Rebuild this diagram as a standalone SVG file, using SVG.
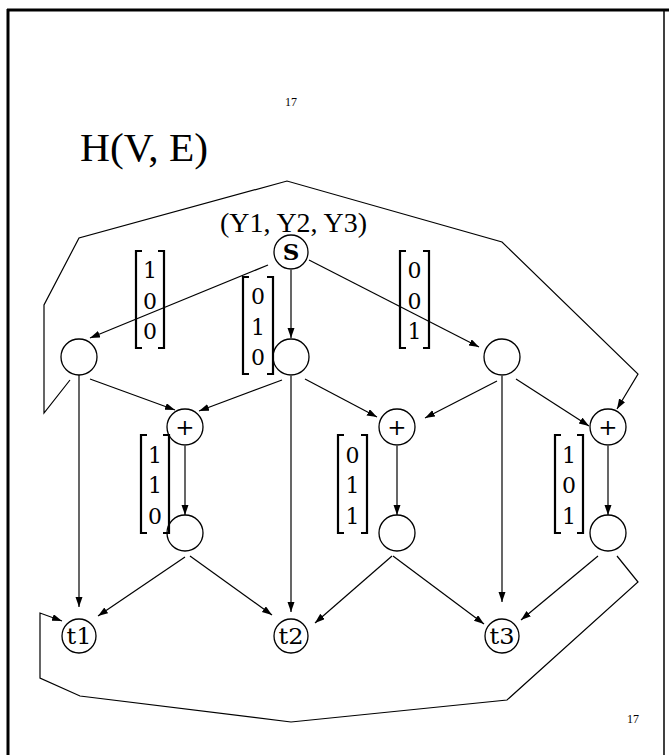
<svg xmlns="http://www.w3.org/2000/svg" width="669" height="755" viewBox="0 0 669 755">
<style>
.n{fill:#fff;stroke:#000;stroke-width:1.3}
.e{fill:none;stroke:#000;stroke-width:1.2;marker-end:url(#a)}
.t{font-family:"Liberation Serif",serif;fill:#000}
.lbl{font-family:"DejaVu Serif","Liberation Serif",serif;font-size:23px;text-anchor:middle;fill:#000}
.dg{font-family:"DejaVu Serif","Liberation Serif",serif;font-size:22px;text-anchor:middle;fill:#000}
.br{fill:none;stroke:#000;stroke-width:2.2}
</style>
<defs>
<marker id="a" markerUnits="userSpaceOnUse" markerWidth="11" markerHeight="8" refX="10" refY="3.5" orient="auto">
<path d="M0,0 L10,3.5 L0,7 z" fill="#000"/>
</marker>
</defs>
<rect width="669" height="755" fill="#fff"/>
<g id="frame">
<line x1="7" y1="10" x2="669" y2="10" stroke="#000" stroke-width="3"/>
<line x1="8" y1="9" x2="8" y2="755" stroke="#000" stroke-width="3"/>
<line x1="664" y1="10" x2="664" y2="755" stroke="#000" stroke-width="1.5"/>
</g>
<text class="t" x="291" y="106" font-size="12" text-anchor="middle">17</text>
<text class="t" x="633" y="723" font-size="12" text-anchor="middle">17</text>
<text class="t" x="80" y="161" font-size="40" textLength="128" lengthAdjust="spacingAndGlyphs">H(V, E)</text>
<text class="t" x="220" y="232" font-size="27" textLength="147" lengthAdjust="spacingAndGlyphs">(Y1, Y2, Y3)</text>

<g id="connectors">
<path class="e" d="M268,265 L90,338"/>
<path class="e" d="M291,270 L291,338"/>
<path class="e" d="M309,260 L479,347"/>
<path class="e" d="M90,379 L175,410"/>
<path class="e" d="M282,380 L199,411"/>
<path class="e" d="M305,379 L377,417"/>
<path class="e" d="M497,381 L425,418"/>
<path class="e" d="M516,379 L589,426"/>
<path class="e" d="M70,380 L44,413 L44,305 L79,238 L287,181 L502,242 L638,374 L617,409"/>
<path class="e" d="M79,375 L79,607"/>
<path class="e" d="M291,376 L291,612"/>
<path class="e" d="M502,376 L502,602"/>
<path class="e" d="M185,446 L185,515"/>
<path class="e" d="M397,446 L397,515"/>
<path class="e" d="M608,446 L608,515"/>
<path class="e" d="M185,557 L98,616"/>
<path class="e" d="M190,556 L272,615"/>
<path class="e" d="M392,556 L315,623"/>
<path class="e" d="M393,556 L484,624"/>
<path class="e" d="M598,556 L521,620"/>
<path class="e" d="M617,556 L638,582 L507,700 L291,722 L80,696 L40,678 L40,613 L62,621"/>
</g>

<g id="S"><circle class="n" cx="291" cy="252" r="17"/><text class="lbl" x="291" y="259.5" font-weight="bold" font-size="21">S</text></g>
<g id="L1"><circle class="n" cx="79" cy="357" r="18"/></g>
<g id="M1"><circle class="n" cx="291" cy="357" r="18"/></g>
<g id="R1"><circle class="n" cx="502" cy="357" r="18"/></g>
<g id="P1"><circle class="n" cx="185" cy="427" r="18"/><text class="lbl" x="185" y="435" font-size="22">+</text></g>
<g id="P2"><circle class="n" cx="397" cy="427" r="18"/><text class="lbl" x="397" y="435" font-size="22">+</text></g>
<g id="P3"><circle class="n" cx="608" cy="427" r="18"/><text class="lbl" x="608" y="435" font-size="22">+</text></g>
<g id="Q1"><circle class="n" cx="185" cy="533" r="18"/></g>
<g id="Q2"><circle class="n" cx="397" cy="533" r="18"/></g>
<g id="Q3"><circle class="n" cx="608" cy="533" r="18"/></g>
<g id="t1"><circle class="n" cx="79" cy="636" r="17"/><text class="lbl" x="79" y="644" textLength="25" lengthAdjust="spacingAndGlyphs">t1</text></g>
<g id="t2"><circle class="n" cx="291" cy="636" r="17"/><text class="lbl" x="291" y="644" textLength="25" lengthAdjust="spacingAndGlyphs">t2</text></g>
<g id="t3"><circle class="n" cx="502" cy="636" r="17"/><text class="lbl" x="502" y="644" textLength="25" lengthAdjust="spacingAndGlyphs">t3</text></g>

<g id="m100" transform="translate(136,251)">
<path class="br" d="M6,0 L0,0 L0,97 L6,97 M22,0 L28,0 L28,97 L22,97"/>
<text class="dg" x="14" y="27">1</text><text class="dg" x="14" y="58">0</text><text class="dg" x="14" y="88">0</text>
</g>
<g id="m010" transform="translate(243,277)">
<path class="br" d="M6,0 L0,0 L0,97 L6,97 M24,0 L30,0 L30,97 L24,97"/>
<text class="dg" x="15" y="27">0</text><text class="dg" x="15" y="58">1</text><text class="dg" x="15" y="88">0</text>
</g>
<g id="m001" transform="translate(400,251)">
<path class="br" d="M6,0 L0,0 L0,97 L6,97 M23,0 L29,0 L29,97 L23,97"/>
<text class="dg" x="14.5" y="27">0</text><text class="dg" x="14.5" y="58">0</text><text class="dg" x="14.5" y="88">1</text>
</g>
<g id="m110" transform="translate(141,435)">
<path class="br" d="M6,0 L0,0 L0,98 L6,98 M22,0 L28,0 L28,98 L22,98"/>
<text class="dg" x="14" y="28">1</text><text class="dg" x="14" y="58">1</text><text class="dg" x="14" y="89">0</text>
</g>
<g id="m011" transform="translate(338,435)">
<path class="br" d="M6,0 L0,0 L0,98 L6,98 M23,0 L29,0 L29,98 L23,98"/>
<text class="dg" x="14.5" y="28">0</text><text class="dg" x="14.5" y="58">1</text><text class="dg" x="14.5" y="89">1</text>
</g>
<g id="m101" transform="translate(555,435)">
<path class="br" d="M6,0 L0,0 L0,98 L6,98 M22,0 L28,0 L28,98 L22,98"/>
<text class="dg" x="14" y="28">1</text><text class="dg" x="14" y="58">0</text><text class="dg" x="14" y="89">1</text>
</g>
</svg>
